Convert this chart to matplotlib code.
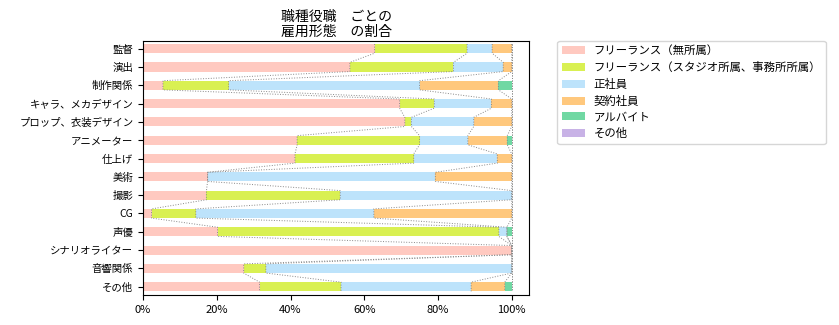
import matplotlib
matplotlib.use("Agg")
import matplotlib.pyplot as plt
import numpy as np
from matplotlib.ticker import PercentFormatter

plt.rcParams["font.family"] = ["Noto Sans CJK JP", "DejaVu Sans"]

# 職種ごとの雇用形態の割合 (%)
jobs = [
    "監督", "演出", "制作関係", "キャラ、メカデザイン", "プロップ、衣装デザイン",
    "アニメーター", "仕上げ", "美術", "撮影", "CG", "声優",
    "シナリオライター", "音響関係", "その他",
]
employment_types = [
    "フリーランス（無所属）",
    "フリーランス（スタジオ所属、事務所所属）",
    "正社員",
    "契約社員",
    "アルバイト",
    "その他",
]
freelance_none = [62.8, 56.1, 5.4, 69.6, 71.0, 41.8, 41.2, 17.5, 17.2, 2.3, 20.2, 100.0, 27.3, 31.6]
freelance_studio = [25.1, 28.1, 17.8, 9.4, 1.8, 33.2, 32.2, 0.0, 36.3, 12.0, 76.3, 0.0, 6.0, 22.1]
full_time = [6.8, 13.5, 51.8, 15.5, 16.9, 13.1, 22.7, 61.8, 46.5, 48.3, 2.2, 0.0, 66.7, 35.3]
contract = [5.3, 2.3, 21.4, 5.5, 10.3, 10.7, 3.9, 20.7, 0.0, 37.4, 0.0, 0.0, 0.0, 9.1]
part_time = [0.0, 0.0, 3.6, 0.0, 0.0, 1.2, 0.0, 0.0, 0.0, 0.0, 1.3, 0.0, 0.0, 1.9]
other = [0.0] * len(jobs)

colors = ["#ffc9c0", "#d9f052", "#bde3fb", "#ffc87d", "#70d8a3", "#c8b2e6"]

series = np.array([freelance_none, freelance_studio, full_time, contract, part_time, other]) / 100.0
series = series / series.sum(axis=0)
cum = series.cumsum(axis=0)

fig = plt.figure(figsize=(8.39, 3.25), dpi=100)
ax = fig.add_axes([0.1705, 0.0923, 0.4605, 0.7817])

y = np.arange(len(jobs))
bar_h = 0.5
left = np.zeros(len(jobs))
for vals, label, color in zip(series, employment_types, colors):
    ax.barh(y, vals, left=left, height=bar_h, color=color, label=label)
    left = left + vals

# dotted guide lines tracing each boundary from bar to bar
for boundary in cum:
    xs = np.repeat(boundary, 2)
    ys = np.column_stack([y - bar_h / 2, y + bar_h / 2]).ravel()
    ax.plot(xs, ys, ":", color="#888888", lw=0.7)

ax.set_xlim(0, 1.048)
ax.set_ylim(13.45, -0.42)
ax.set_yticks(y)
ax.set_yticklabels(jobs, fontsize=7.5)
ax.set_xticks(np.linspace(0, 1, 6))
ax.xaxis.set_major_formatter(PercentFormatter(1.0, decimals=0))
ax.tick_params(axis="x", labelsize=8)
ax.set_title("職種役職　ごとの\n雇用形態　の割合", fontsize=10, pad=4, linespacing=1.0)

ax.legend(loc="upper left", bbox_to_anchor=(1.072, 1.0), borderaxespad=0,
          fontsize=8.2, labelspacing=0.5, handleheight=0.7)

fig.savefig("out.png", dpi=100)
